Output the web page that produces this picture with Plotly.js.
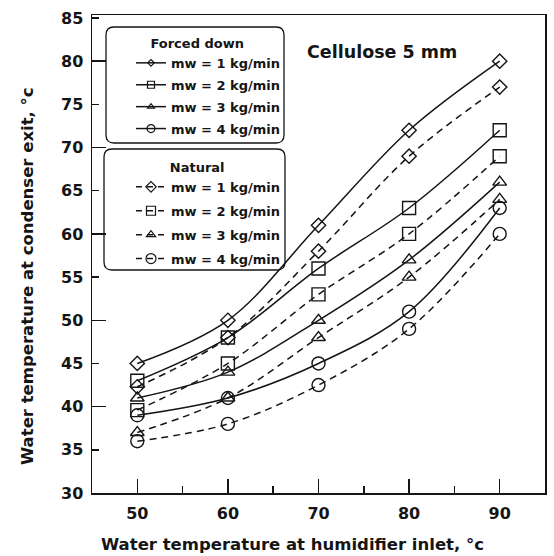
<!DOCTYPE html>
<html>
<head>
<meta charset="utf-8">
<script src="https://cdn.plot.ly/plotly-3.0.1.min.js"></script>
<style>
  html, body { margin: 0; padding: 0; background: #ffffff; }
  #chart { width: 554px; height: 556px; }
</style>
</head>
<body>
<div id="chart"></div>
<script>
// Water temperature at humidifier inlet (°C)
const inletTemp = [50, 60, 70, 80, 90];

// Condenser exit temperature, forced-down air circulation
const forced1 = [45, 50, 61, 72, 80];
const forced2 = [43, 48, 56, 63, 72];
const forced3 = [41, 44, 50, 57, 66];
const forced4 = [39, 41, 45, 51, 63];

// Condenser exit temperature, natural air circulation
const natural1 = [42.3, 48, 58, 69, 77];
const natural2 = [39.6, 45, 53, 60, 69];
const natural3 = [37, 41, 48, 55, 64];
const natural4 = [36, 38, 42.5, 49, 60];

const flowLabels = ['mw = 1 kg/min', 'mw = 2 kg/min', 'mw = 3 kg/min', 'mw = 4 kg/min'];
const symbols = ['diamond-open', 'square-open', 'triangle-up-open', 'circle-open'];

const INK = '#151515';
const FONT = 'DejaVu Sans';
const PAD = '\u00a0\u00a0\u00a0\u00a0\u00a0';   // nudges the key titles over their box centre

// plot frame in pixels (used for placing boxes and labels)
const W = 554, H = 556;
const M = { l: 92, r: 9, t: 15, b: 63 };
const px = x => (x - M.l) / (W - M.l - M.r);
const py = y => (H - M.b - y) / (H - M.t - M.b);

const markerSizes = [11, 13, 12, 13];
const forced = [forced1, forced2, forced3, forced4];
const natural = [natural1, natural2, natural3, natural4];

const traces = [];
forced.forEach((vals, i) => {
  traces.push({
    type: 'scatter', mode: 'lines+markers', x: inletTemp, y: vals,
    showlegend: false,
    line: { color: INK, width: 1.5, shape: 'spline', smoothing: 1 },
    marker: { symbol: symbols[i], size: markerSizes[i], color: INK, line: { width: 1.4, color: INK } }
  });
});
natural.forEach((vals, i) => {
  traces.push({
    type: 'scatter', mode: 'lines+markers', x: inletTemp, y: vals,
    showlegend: false,
    line: { color: INK, width: 1.5, shape: 'spline', smoothing: 1, dash: '7px,5px' },
    marker: { symbol: symbols[i], size: markerSizes[i], color: INK, line: { width: 1.4, color: INK } }
  });
});

// key entries (small symbols, as in the key boxes); one group per entry for spacing
const forcedKeySizes = [5, 7, 6, 8];
const naturalKeySizes = [8, 9, 8, 10];
flowLabels.forEach((name, i) => {
  traces.push({
    type: 'scatter', mode: 'lines+markers', x: [null], y: [null], name: name,
    legend: 'legend', legendgroup: 'f' + i, yaxis: 'y2',
    line: { color: INK, width: 1.5 },
    marker: { symbol: symbols[i], size: forcedKeySizes[i], color: INK, line: { width: 1.2, color: INK } }
  });
});
flowLabels.forEach((name, i) => {
  traces.push({
    type: 'scatter', mode: 'lines+markers', x: [null], y: [null], name: name,
    legend: 'legend2', legendgroup: 'n' + i, yaxis: 'y2',
    line: { color: INK, width: 1.5, dash: '6px,5px' },
    marker: { symbol: symbols[i], size: naturalKeySizes[i], color: INK, line: { width: 1.2, color: INK } }
  });
});

function roundBox(x0, y0, x1, y1, r) {
  const a = px(x0), b = px(x1), c = py(y0), d = py(y1);
  const rx = r / (W - M.l - M.r), ry = r / (H - M.t - M.b);
  return 'M' + (a + rx) + ',' + c +
    ' L' + (b - rx) + ',' + c + ' Q' + b + ',' + c + ' ' + b + ',' + (c - ry) +
    ' L' + b + ',' + (d + ry) + ' Q' + b + ',' + d + ' ' + (b - rx) + ',' + d +
    ' L' + (a + rx) + ',' + d + ' Q' + a + ',' + d + ' ' + a + ',' + (d + ry) +
    ' L' + a + ',' + (c - ry) + ' Q' + a + ',' + c + ' ' + (a + rx) + ',' + c + ' Z';
}

const legendFont = { family: FONT, size: 13, color: INK, weight: 'bold' };
const tickFont = { family: FONT, size: 16, color: INK, weight: 'bold' };
const yRange = [30, 85.35];

const layout = {
  width: W, height: H,
  margin: M,
  paper_bgcolor: '#ffffff',
  plot_bgcolor: '#ffffff',
  showlegend: true,
  xaxis: {
    range: [45, 95], tick0: 50, dtick: 10,
    ticks: 'inside', ticklen: 14, tickwidth: 1.5, tickcolor: INK,
    minor: { tick0: 45, dtick: 5, ticks: 'inside', ticklen: 7, tickwidth: 1.5, tickcolor: INK },
    showline: true, linewidth: 1.5, linecolor: INK, mirror: true,
    showgrid: false, zeroline: false,
    tickfont: tickFont, ticklabelstandoff: 5
  },
  yaxis: {
    range: yRange, tick0: 30, dtick: 5,
    ticks: 'inside', ticklen: 7, tickwidth: 1.5, tickcolor: INK,
    showline: true, linewidth: 1.5, linecolor: INK, mirror: true,
    showgrid: false, zeroline: false,
    tickfont: tickFont, ticklabelstandoff: 4
  },
  yaxis2: {
    overlaying: 'y', side: 'left', range: yRange, tick0: 30, dtick: 10,
    ticks: 'inside', ticklen: 14, tickwidth: 1.5, tickcolor: INK,
    showticklabels: false, showline: false, showgrid: false, zeroline: false
  },
  legend: {
    x: px(131), y: py(31), xanchor: 'left', yanchor: 'top',
    bgcolor: 'rgba(0,0,0,0)', borderwidth: 0,
    font: legendFont, traceorder: 'grouped', tracegroupgap: 2,
    title: { text: 'Forced down' + PAD, side: 'top center', font: legendFont }
  },
  legend2: {
    x: px(131), y: py(155), xanchor: 'left', yanchor: 'top',
    bgcolor: 'rgba(0,0,0,0)', borderwidth: 0,
    font: legendFont, traceorder: 'grouped', tracegroupgap: 4,
    title: { text: 'Natural' + PAD, side: 'top center', font: legendFont }
  },
  shapes: [
    { type: 'path', xref: 'paper', yref: 'paper', path: roundBox(106, 27, 284, 143, 8),
      line: { color: INK, width: 1.3 }, fillcolor: 'rgba(0,0,0,0)' },
    { type: 'path', xref: 'paper', yref: 'paper', path: roundBox(104, 149, 285, 270, 8),
      line: { color: INK, width: 1.3 }, fillcolor: 'rgba(0,0,0,0)' }
  ],
  annotations: [
    { text: 'Cellulose 5 mm', xref: 'paper', yref: 'paper', x: px(305), y: py(52),
      xanchor: 'left', yanchor: 'middle', showarrow: false,
      font: { family: FONT, size: 17.5, color: INK, weight: 'bold' } },
    { text: 'Water temperature at humidifier inlet, °c', xref: 'paper', yref: 'paper',
      x: px(292), y: py(544), xanchor: 'center', yanchor: 'middle', showarrow: false,
      font: { family: FONT, size: 16.5, color: INK, weight: 'bold' } },
    { text: 'Water temperature at condenser exit, °c', xref: 'paper', yref: 'paper',
      x: px(27), y: py(276), xanchor: 'center', yanchor: 'middle', showarrow: false,
      textangle: -90,
      font: { family: FONT, size: 16.5, color: INK, weight: 'bold' } }
  ]
};

Plotly.newPlot('chart', traces, layout, { displayModeBar: false, staticPlot: true });
</script>
</body>
</html>
